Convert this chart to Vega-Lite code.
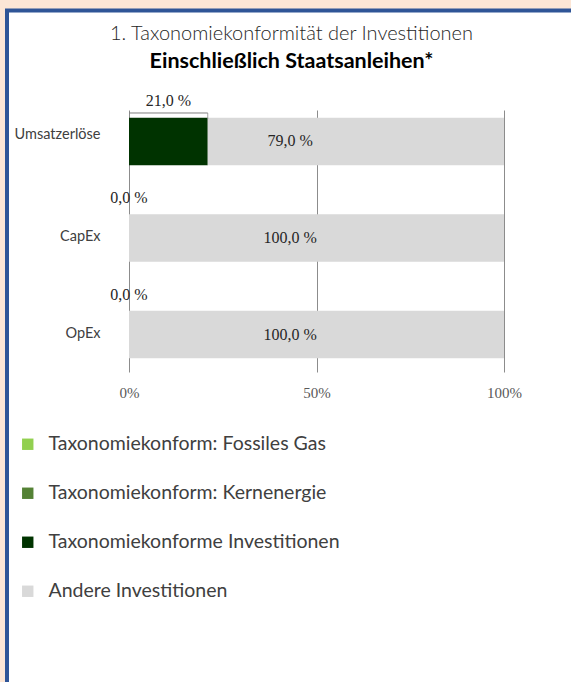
{
  "$schema": "https://vega.github.io/schema/vega-lite/v6.json",
  "autosize": {"type": "none"},
  "width": 569,
  "height": 675,
  "padding": {"left": 7, "top": 10.5, "right": 0, "bottom": 0},
  "background": "#FCE6D6",
  "title": {
    "text": "1. Taxonomiekonformität der Investitionen",
    "subtitle": "Einschließlich Staatsanleihen*",
    "anchor": "middle",
    "frame": "group",
    "orient": "top",
    "font": "Lato",
    "fontSize": 20,
    "fontWeight": 300,
    "color": "#262626",
    "subtitleFont": "Lato",
    "subtitleFontSize": 21.5,
    "subtitleFontWeight": "bold",
    "subtitleColor": "#000000",
    "subtitlePadding": 7,
    "offset": -62
  },
  "data": {
    "values": [
      {"kategorie": "Umsatzerlöse", "serie": "Taxonomiekonform: Fossiles Gas", "anteil": 0},
      {"kategorie": "Umsatzerlöse", "serie": "Taxonomiekonform: Kernenergie", "anteil": 0},
      {"kategorie": "Umsatzerlöse", "serie": "Taxonomiekonforme Investitionen", "anteil": 0.21},
      {"kategorie": "Umsatzerlöse", "serie": "Andere Investitionen", "anteil": 0.79},
      {"kategorie": "CapEx", "serie": "Taxonomiekonform: Fossiles Gas", "anteil": 0},
      {"kategorie": "CapEx", "serie": "Taxonomiekonform: Kernenergie", "anteil": 0},
      {"kategorie": "CapEx", "serie": "Taxonomiekonforme Investitionen", "anteil": 0},
      {"kategorie": "CapEx", "serie": "Andere Investitionen", "anteil": 1},
      {"kategorie": "OpEx", "serie": "Taxonomiekonform: Fossiles Gas", "anteil": 0},
      {"kategorie": "OpEx", "serie": "Taxonomiekonform: Kernenergie", "anteil": 0},
      {"kategorie": "OpEx", "serie": "Taxonomiekonforme Investitionen", "anteil": 0},
      {"kategorie": "OpEx", "serie": "Andere Investitionen", "anteil": 1}
    ]
  },
  "layer": [
    {
      "mark": {"type": "bar"},
      "encoding": {
        "y": {
          "field": "kategorie",
          "type": "nominal",
          "sort": ["Umsatzerlöse", "CapEx", "OpEx"],
          "scale": {"range": [99.5, 355.5], "paddingInner": 0.508, "paddingOuter": 0.0804},
          "axis": {
            "orient": "left",
            "offset": -122,
            "labelPadding": 29,
            "labelOffset": {"condition": {"test": "datum.value === 'Umsatzerlöse'", "value": -6}, "value": -1},
            "ticks": false,
            "domain": false,
            "grid": false,
            "title": null,
            "labelFont": "Lato",
            "labelFontSize": 14.5,
            "labelColor": "#404040"
          }
        },
        "x": {
          "field": "anteil",
          "type": "quantitative",
          "stack": "zero",
          "scale": {"domain": [0, 1], "range": [122, 497]},
          "axis": {
            "orient": "bottom",
            "offset": -313.5,
            "values": [0, 0.5, 1],
            "tickSize": -262,
            "tickColor": "#8C8C8C",
            "tickWidth": 1,
            "domain": false,
            "grid": false,
            "title": null,
            "labelFlush": false,
            "labelExpr": "format(datum.value * 100, '.0f') + '%'",
            "labelFont": "Liberation Serif",
            "labelFontSize": 15,
            "labelColor": "#595959",
            "labelPadding": 275,
            "labelBaseline": "top"
          }
        },
        "color": {
          "field": "serie",
          "type": "nominal",
          "scale": {
            "domain": ["Taxonomiekonform: Fossiles Gas", "Taxonomiekonform: Kernenergie", "Taxonomiekonforme Investitionen", "Andere Investitionen"],
            "range": ["#92D050", "#548235", "#003300", "#D9D9D9"]
          },
          "legend": {
            "orient": "none",
            "legendX": 11,
            "legendY": 424,
            "direction": "vertical",
            "title": null,
            "symbolType": "square",
            "symbolSize": 130,
            "symbolStrokeWidth": 0,
            "symbolOpacity": 1,
            "labelFont": "Lato",
            "labelFontSize": 19.5,
            "labelColor": "#404040",
            "labelOffset": 11,
            "labelLimit": 0,
            "rowPadding": 28,
            "padding": 0,
            "encode": {
              "symbols": {
                "update": {
                  "fill": {"signal": "datum.value === 'Taxonomiekonforme Investitionen' ? '#375623' : scale('color', datum.value)"}
                }
              }
            }
          }
        },
        "order": {"field": "serie", "type": "nominal", "sort": "descending"}
      }
    },
    {
      "transform": [{"filter": "datum.serie === 'Taxonomiekonforme Investitionen' && datum.anteil > 0"}],
      "mark": {"type": "rule", "color": "#7F7F7F", "strokeWidth": 1, "yOffset": -28.5},
      "encoding": {
        "y": {"field": "kategorie", "type": "nominal", "sort": ["Umsatzerlöse", "CapEx", "OpEx"]},
        "x": {"field": "anteil", "type": "quantitative", "stack": "zero"}
      }
    },
    {
      "transform": [{"filter": "datum.serie === 'Taxonomiekonforme Investitionen' && datum.anteil > 0"}],
      "mark": {"type": "tick", "orient": "vertical", "color": "#7F7F7F", "thickness": 1, "size": 6, "yOffset": -25.5},
      "encoding": {
        "y": {"field": "kategorie", "type": "nominal", "sort": ["Umsatzerlöse", "CapEx", "OpEx"]},
        "x": {"field": "anteil", "type": "quantitative"}
      }
    },
    {
      "transform": [{"filter": "datum.serie === 'Taxonomiekonforme Investitionen'"}],
      "mark": {"type": "text", "font": "Liberation Serif", "fontSize": 16, "color": "#262626", "baseline": "middle", "align": "center", "dy": -40},
      "encoding": {
        "y": {"field": "kategorie", "type": "nominal", "sort": ["Umsatzerlöse", "CapEx", "OpEx"]},
        "x": {"field": "anteil", "type": "quantitative", "stack": "zero", "bandPosition": 0.5},
        "text": {"field": "anteil", "type": "quantitative", "format": ".1%"}
      }
    },
    {
      "transform": [{"filter": "datum.serie === 'Andere Investitionen'"}],
      "mark": {"type": "text", "font": "Liberation Serif", "fontSize": 16, "color": "#262626", "baseline": "middle", "align": "center"},
      "encoding": {
        "y": {"field": "kategorie", "type": "nominal", "sort": ["Umsatzerlöse", "CapEx", "OpEx"]},
        "x": {"datum": 0.43, "type": "quantitative"},
        "text": {"field": "anteil", "type": "quantitative", "format": ".1%"}
      }
    }
  ],
  "config": {
    "locale": {
      "number": {"decimal": ",", "thousands": ".", "grouping": [3], "currency": ["", " €"], "percent": " %"}
    },
    "view": {"fill": "white", "stroke": "#2F5597", "strokeWidth": 4}
  }
}
